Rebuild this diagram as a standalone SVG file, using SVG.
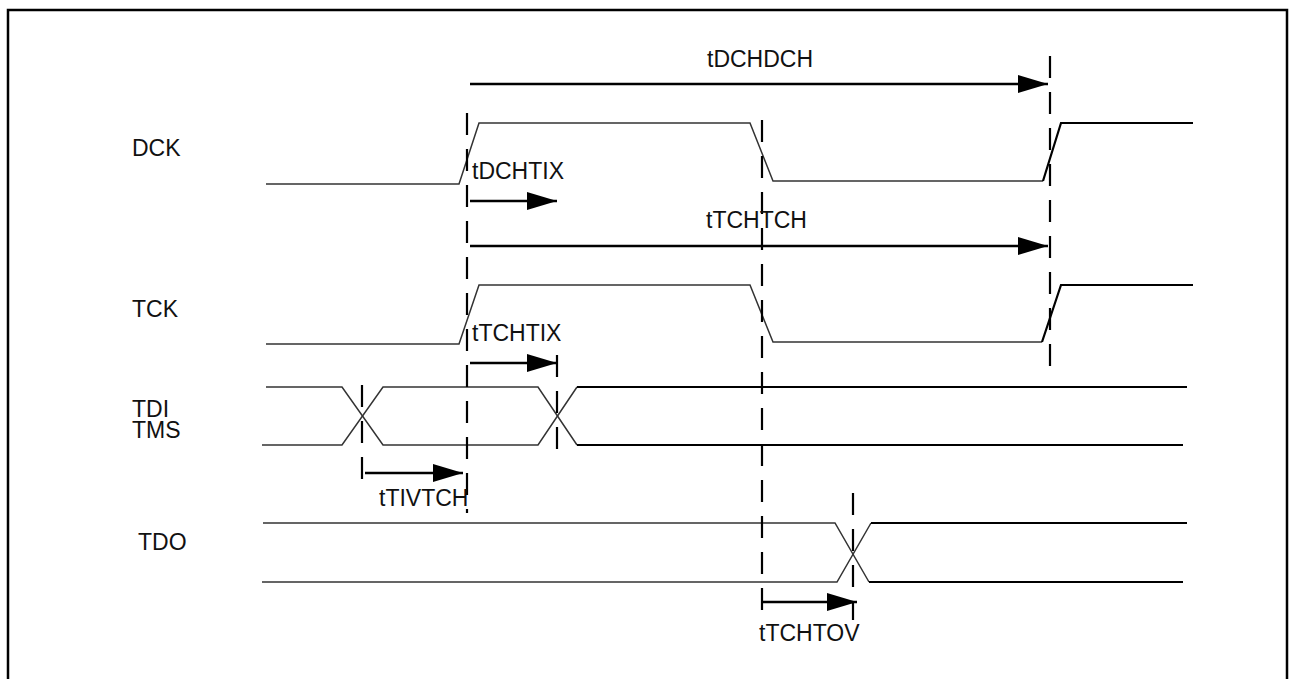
<svg xmlns="http://www.w3.org/2000/svg" width="1290" height="679" viewBox="0 0 1290 679">
<style>
text{font-family:"Liberation Sans",Arial,sans-serif;font-size:23px;fill:#111}
.w{fill:none;stroke:#333;stroke-width:1.5;stroke-linejoin:miter}
.wt{fill:none;stroke:#000;stroke-width:2.2}
.d{fill:none;stroke:#000;stroke-width:2.2;stroke-dasharray:22,14}
.a{fill:none;stroke:#000;stroke-width:2.5;marker-end:url(#ah)}
.b{fill:none;stroke:#000;stroke-width:2.5}
</style>
<defs>
<marker id="ah" markerUnits="userSpaceOnUse" markerWidth="32" markerHeight="20" refX="30" refY="9" orient="auto">
<path d="M0,0 L30,9 L0,18 Z" fill="#000"/>
</marker>
</defs>
<rect width="1290" height="679" fill="#fff"/>
<path class="b" d="M8,679 V10 H1287 V679"/>

<g id="labels">
<text x="132" y="156">DCK</text>
<text x="132" y="317">TCK</text>
<text x="132" y="417">TDI</text>
<text x="132" y="438">TMS</text>
<text x="138" y="550">TDO</text>
</g>

<g id="dck">
<path class="w" d="M266,184 H459 L479,123 H750 L773,181 H1043"/>
<path class="wt" d="M1043,181 L1061,123 H1193"/>
</g>
<g id="tck">
<path class="w" d="M266,344 H459 L479,285 H750 L773,342 H1042"/>
<path class="wt" d="M1042,342 L1061,285 H1193"/>
</g>
<g id="tdi-tms">
<path class="w" d="M266,387 H342 L383,445 H538 L577,387"/>
<path class="w" d="M262,445 H342 L383,387 H538 L577,445"/>
<path class="wt" d="M577,387 H1187 M577,445 H1183"/>
</g>
<g id="tdo">
<path class="w" d="M263,523 H835 L869,582"/>
<path class="w" d="M262,582 H837 L871,523"/>
<path class="wt" d="M871,523 H1187 M869,582 H1183"/>
</g>

<g id="connectors">
<path class="d" d="M467,113 V513"/>
<path class="d" d="M762,120 V620"/>
<path class="d" d="M1050,56 V380"/>
<path class="d" d="M362,385 V490"/>
<path class="d" d="M557,355 V460"/>
<path class="d" d="M853,493 V620"/>
<line class="a" x1="470" y1="84" x2="1048" y2="84"/>
<line class="a" x1="470" y1="201" x2="557" y2="201"/>
<line class="a" x1="470" y1="246" x2="1048" y2="246"/>
<line class="a" x1="470" y1="363" x2="557" y2="363"/>
<line class="a" x1="365" y1="473" x2="463" y2="473"/>
<line class="a" x1="762" y1="602" x2="857" y2="602"/>
</g>

<g id="timing-labels">
<text x="707" y="67">tDCHDCH</text>
<text x="472" y="179">tDCHTIX</text>
<text x="706" y="228">tTCHTCH</text>
<text x="472" y="341">tTCHTIX</text>
<text x="379" y="506">tTIVTCH</text>
<text x="759" y="641">tTCHTOV</text>
</g>
</svg>
